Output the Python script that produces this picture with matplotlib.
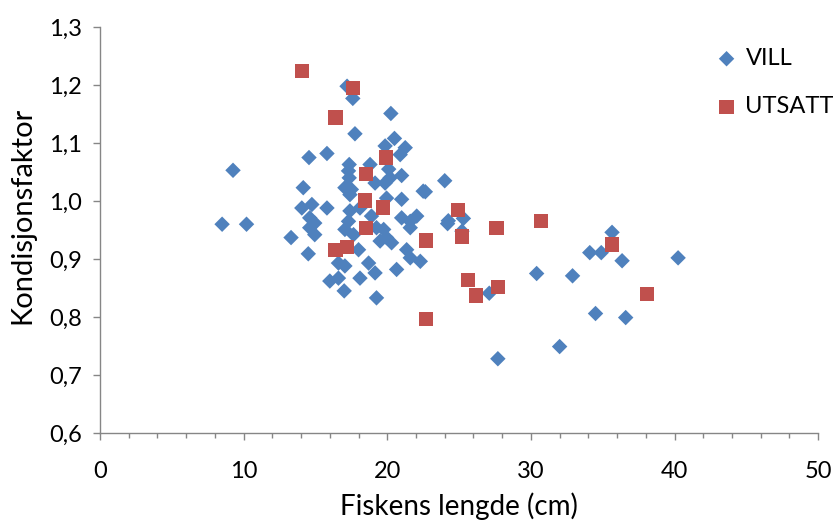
import matplotlib
matplotlib.use("Agg")
import matplotlib.pyplot as plt
from matplotlib.ticker import MultipleLocator, FuncFormatter

# Wild fish: length (cm) and condition factor
vill_len = [8.5, 9.26, 10.2, 13.3, 14.15, 14.55, 15.8, 14.05, 14.75, 15.8,
            14.6, 14.95, 14.6, 14.95, 14.5, 16.0, 16.6, 17.0, 16.6, 17.05,
            17.2, 17.6, 17.75, 20.25, 20.5, 19.85, 21.25, 20.9, 17.35, 18.8,
            17.3, 20.1, 21.0, 17.35, 20.2, 19.15, 19.85, 17.05, 17.5, 19.95,
            21.0, 22.5, 17.4, 17.4, 17.3, 17.05, 17.65, 18.1, 18.9, 19.25,
            19.75, 19.5, 20.3, 19.95, 21.0, 21.6, 22.05, 21.6, 18.0, 21.35,
            21.6, 22.3, 18.7, 19.15, 18.1, 20.65, 19.25, 24.0, 22.65, 25.3,
            24.25, 24.2, 25.2, 27.1, 27.7, 30.4, 32.9, 32.0, 34.1, 34.9,
            35.65, 36.35, 34.5, 36.6, 40.25]
vill_k = [0.960, 1.053, 0.960, 0.937, 1.023, 1.075, 1.082, 0.988, 0.994, 0.988,
          0.971, 0.962, 0.954, 0.942, 0.909, 0.862, 0.867, 0.845, 0.893, 0.888,
          1.198, 1.177, 1.116, 1.151, 1.108, 1.095, 1.092, 1.080, 1.063, 1.063,
          1.052, 1.055, 1.044, 1.040, 1.040, 1.031, 1.031, 1.023, 1.020, 1.005,
          1.003, 1.017, 1.011, 0.983, 0.965, 0.951, 0.942, 0.988, 0.974, 0.954,
          0.951, 0.931, 0.928, 0.937, 0.971, 0.965, 0.974, 0.954, 0.916, 0.916,
          0.902, 0.896, 0.893, 0.876, 0.867, 0.882, 0.833, 1.035, 1.016, 0.970,
          0.966, 0.961, 0.948, 0.841, 0.728, 0.875, 0.871, 0.749, 0.911, 0.911,
          0.946, 0.897, 0.806, 0.799, 0.902]

# Stocked fish: length (cm) and condition factor
utsatt_len = [14.07, 17.6, 16.4, 19.9, 18.5, 18.45, 19.7, 18.5, 24.9, 25.2,
              22.7, 16.4, 17.2, 27.6, 30.7, 35.65, 25.6, 26.2, 27.7, 22.7, 38.1]
utsatt_k = [1.224, 1.195, 1.144, 1.075, 1.046, 1.001, 0.989, 0.954, 0.985, 0.939,
            0.932, 0.916, 0.921, 0.953, 0.965, 0.925, 0.864, 0.837, 0.852, 0.797, 0.840]

x_label = "Fiskens lengde (cm)"
y_label = "Kondisjonsfaktor"
series_names = ["VILL", "UTSATT"]

plt.rcParams['font.family'] = ['Lato', 'DejaVu Sans']

fig = plt.figure(figsize=(8.35, 5.21), dpi=100)
ax = fig.add_axes([0.1198, 0.169, 0.86, 0.779])

ax.scatter(vill_len, vill_k, marker='D', s=62, color='#4F81BD',
           edgecolors='none', label=series_names[0], zorder=3)
ax.scatter(utsatt_len, utsatt_k, marker='s', s=105, color='#C0504D',
           edgecolors='none', label=series_names[1], zorder=4)

ax.set_xlim(0, 50)
ax.set_ylim(0.6, 1.3)
ax.xaxis.set_major_locator(MultipleLocator(10))
ax.xaxis.set_minor_locator(MultipleLocator(2))
ax.yaxis.set_major_locator(MultipleLocator(0.1))
ax.yaxis.set_major_formatter(FuncFormatter(lambda v, p: f"{v:.1f}".replace('.', ',')))
ax.xaxis.set_major_formatter(FuncFormatter(lambda v, p: f"{v:.0f}"))

for side in ('top', 'right'):
    ax.spines[side].set_visible(False)
for side in ('left', 'bottom'):
    ax.spines[side].set_color('#868686')
    ax.spines[side].set_linewidth(1.0)

ax.tick_params(axis='both', which='major', direction='out', length=5,
               width=1.0, color='#868686', labelsize=17, labelcolor='black')
ax.tick_params(axis='x', which='minor', direction='out', length=3.5,
               width=1.0, color='#868686')
ax.tick_params(axis='x', which='major', pad=15)
ax.tick_params(axis='y', which='major', pad=8)

ax.set_xlabel(x_label, fontsize=20, labelpad=8)
ax.set_ylabel(y_label, fontsize=21, labelpad=10)
ax.yaxis.label.set_y(0.535)

fig.legend(loc='upper left', bbox_to_anchor=(0.856, 0.908), frameon=False,
           fontsize=17, handlelength=1.0, handletextpad=0.3, labelspacing=1.15,
           borderaxespad=0, borderpad=0, scatterpoints=1)

fig.savefig("out.png", dpi=100)
